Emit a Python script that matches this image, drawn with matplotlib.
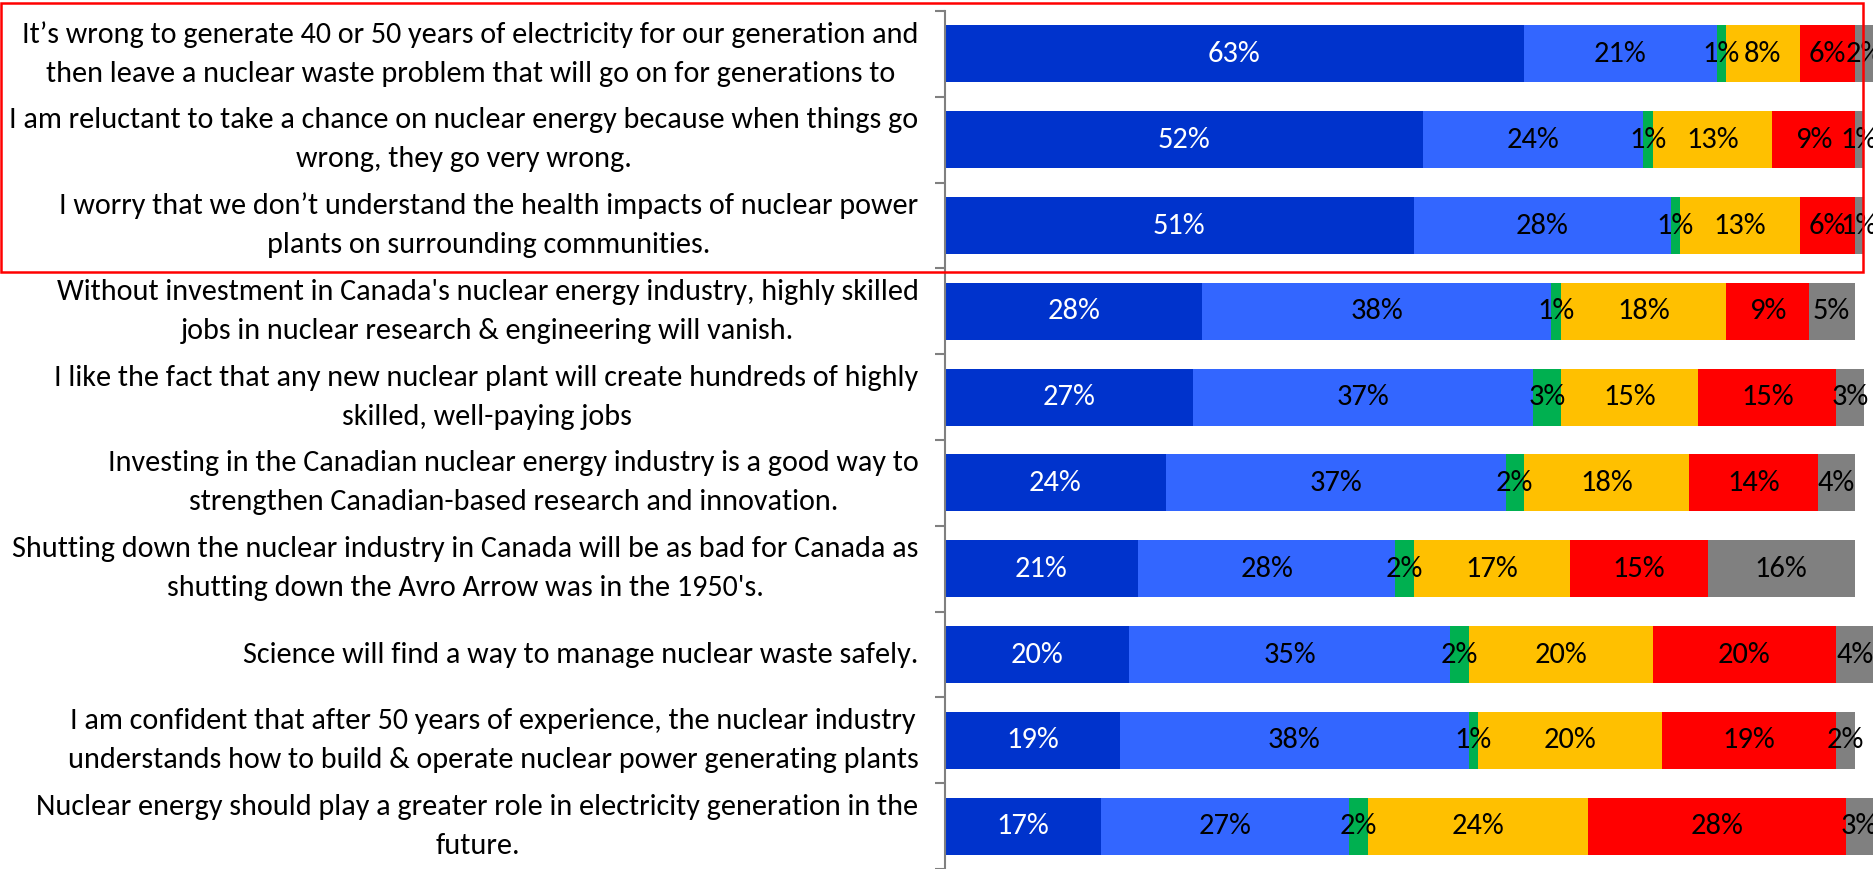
import matplotlib
matplotlib.use("Agg")
import matplotlib.pyplot as plt
from matplotlib.patches import Rectangle
import numpy as np

plt.rcParams['font.family'] = ['Carlito', 'DejaVu Sans']

statements = [
    "It\u2019s wrong to generate 40 or 50 years of electricity for our generation and\nthen leave a nuclear waste problem that will go on for generations to",
    "I am reluctant to take a chance on nuclear energy because when things go\nwrong, they go very wrong.",
    "I worry that we don\u2019t understand the health impacts of nuclear power\nplants on surrounding communities.",
    "Without investment in Canada's nuclear energy industry, highly skilled\njobs in nuclear research & engineering will vanish.",
    "I like the fact that any new nuclear plant will create hundreds of highly\nskilled, well-paying jobs",
    "Investing in the Canadian nuclear energy industry is a good way to\nstrengthen Canadian-based research and innovation.",
    "Shutting down the nuclear industry in Canada will be as bad for Canada as\nshutting down the Avro Arrow was in the 1950's.",
    "Science will find a way to manage nuclear waste safely.",
    "I am confident that after 50 years of experience, the nuclear industry\nunderstands how to build & operate nuclear power generating plants",
    "Nuclear energy should play a greater role in electricity generation in the\nfuture.",
]

strongly_agree = [63, 52, 51, 28, 27, 24, 21, 20, 19, 17]
somewhat_agree = [21, 24, 28, 38, 37, 37, 28, 35, 38, 27]
neutral = [1, 1, 1, 1, 3, 2, 2, 2, 1, 2]
somewhat_disagree = [8, 13, 13, 18, 15, 18, 17, 20, 20, 24]
strongly_disagree = [6, 9, 6, 9, 15, 14, 15, 20, 19, 28]
dont_know = [2, 1, 1, 5, 3, 4, 16, 4, 2, 3]

series = [strongly_agree, somewhat_agree, neutral, somewhat_disagree, strongly_disagree, dont_know]
colors = ['#0033CC', '#3366FF', '#00B050', '#FFC000', '#FF0000', '#808080']
text_colors = ['white', 'black', 'black', 'black', 'black', 'black']

W, H = 1874, 869
fig = plt.figure(figsize=(W / 100, H / 100), dpi=100)
ax = fig.add_axes([945 / W, 0, 1 - 945 / W, (H - 11) / H])

n = len(statements)
y = np.arange(n)
left = np.zeros(n)
for vals, c, tc in zip(series, colors, text_colors):
    vals = np.array(vals, dtype=float)
    ax.barh(y, vals, left=left, height=0.665, color=c, edgecolor='none')
    for yi, l, v in zip(y, left, vals):
        ax.text(l + v / 2, yi, f"{int(v)}%", ha='center', va='center',
                color=tc, fontsize=22)
    left = left + vals

ax.set_ylim(n - 0.5, -0.5)
ax.set_xlim(0, 101.1)
ax.set_yticks(y)
ax.set_yticklabels(statements, fontsize=21.7, multialignment='center',
                   linespacing=1.62)
for lab in ax.get_yticklabels():
    lab.set_verticalalignment('center')
ax.tick_params(axis='y', which='major', length=0, pad=19)
ax.set_yticks(np.arange(n + 1) - 0.5, minor=True)
ax.tick_params(axis='y', which='minor', length=7, color='#808080', width=1.5)
ax.set_xticks([])
for s in ['top', 'right', 'bottom']:
    ax.spines[s].set_visible(False)
ax.spines['left'].set_color('#808080')
ax.spines['left'].set_linewidth(1.5)

rect = Rectangle((1 / W, (H - 272) / H), (1863 - 1) / W, (272 - 3) / H,
                 transform=fig.transFigure, fill=False, edgecolor='#FF0000',
                 linewidth=1.8, zorder=10)
fig.patches.append(rect)

fig.savefig('out.png', dpi=100)
